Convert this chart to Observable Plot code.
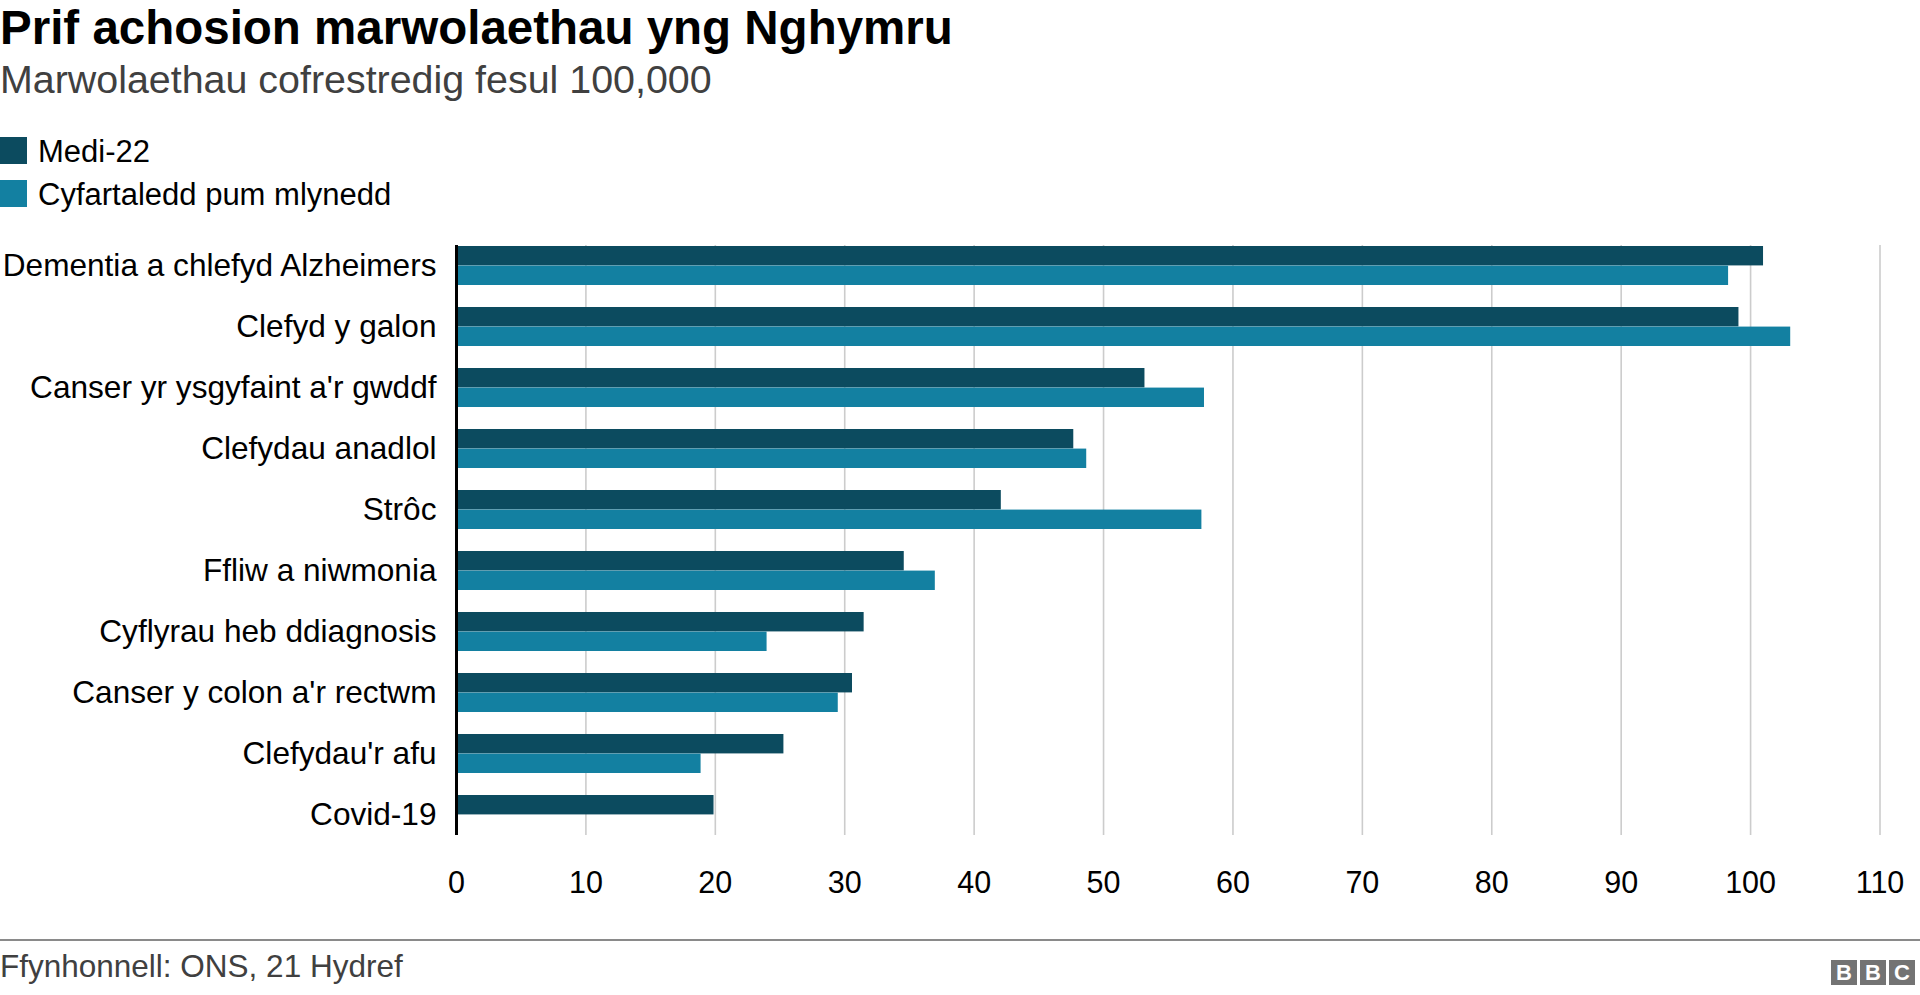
<!DOCTYPE html>
<html>
<head>
<meta charset="utf-8">
<script src="https://cdn.jsdelivr.net/npm/d3@7"></script>
<script src="https://cdn.jsdelivr.net/npm/@observablehq/plot@0.6"></script>
<style>
  html, body { margin: 0; padding: 0; background: #fff; }
  body { width: 1920px; height: 995px; position: relative; overflow: hidden;
         font-family: "Liberation Sans", Arial, Helvetica, sans-serif; }
  .abs { position: absolute; white-space: nowrap; }
  #title { left: 0; top: 0; font-size: 47.5px; font-weight: bold; color: #000; line-height: 56px; }
  #subtitle { left: 0; top: 56px; font-size: 39.4px; color: #404040; line-height: 46px; }
  #legend { position: absolute; left: 0; top: 0; z-index: 2; }
  .leg-item { position: absolute; left: 0; height: 27px; width: 600px; white-space: nowrap; }
  .leg-sw { position: absolute; left: 0; top: 0; width: 27px; height: 27px; }
  .leg-tx { position: absolute; left: 38px; top: -2px; font-size: 31px; line-height: 34px; color: #000; white-space: nowrap; }
  #chart { left: 0; top: 200px; z-index: 1; }
  #rule { left: 0; top: 939px; width: 1920px; height: 2px; background: #8a8a8a; }
  #source { left: 0; top: 946px; font-size: 31.5px; line-height: 40px; color: #404040; }
  #bbc { left: 1831px; top: 960px; display: flex; gap: 3px; }
  #bbc span { width: 26px; height: 25px; background: #737373; color: #fff; font-weight: bold;
              font-size: 22px; line-height: 25px; text-align: center; display: block; }
</style>
</head>
<body>
<div id="title" class="abs">Prif achosion marwolaethau yng Nghymru</div>
<div id="subtitle" class="abs">Marwolaethau cofrestredig fesul 100,000</div>
<div id="chart" class="abs"></div>
<div id="legend"></div>
<div id="rule" class="abs"></div>
<div id="source" class="abs">Ffynhonnell: ONS, 21 Hydref</div>
<div id="bbc" class="abs"><span>B</span><span>B</span><span>C</span></div>
<script>
const categories = [
  "Dementia a chlefyd Alzheimers",
  "Clefyd y galon",
  "Canser yr ysgyfaint a'r gwddf",
  "Clefydau anadlol",
  "Strôc",
  "Ffliw a niwmonia",
  "Cyflyrau heb ddiagnosis",
  "Canser y colon a'r rectwm",
  "Clefydau'r afu",
  "Covid-19"
];
const seriesNames = ["Medi-22", "Cyfartaledd pum mlynedd"];
const seriesColors = ["#0c4b5f", "#1380a1"];
const medi22 = [101.0, 99.1, 53.2, 47.7, 42.1, 34.6, 31.5, 30.6, 25.3, 19.9];
const avg5   = [98.3, 103.1, 57.8, 48.7, 57.6, 37.0, 24.0, 29.5, 18.9, null];
const xTicks = [0, 10, 20, 30, 40, 50, 60, 70, 80, 90, 100, 110];

// Legend
const legend = document.getElementById("legend");
seriesNames.forEach((name, i) => {
  const item = document.createElement("div");
  item.className = "leg-item";
  item.style.top = (137 + i * 43) + "px";
  item.innerHTML = `<div class="leg-sw" style="background:${seriesColors[i]}"></div><div class="leg-tx">${name}</div>`;
  legend.appendChild(item);
});

const rowsMedi = categories.map((c, i) => ({category: c, value: medi22[i]}));
const rowsAvg = categories.map((c, i) => ({category: c, value: avg5[i]})).filter(d => d.value != null);

const height = 710, marginTop = 45, marginBottom = 75;
const paddingInner = 0.36;
const step = (height - marginTop - marginBottom) / (categories.length - paddingInner);
const half = step * (1 - paddingInner) / 2;

const chart = Plot.plot({
  width: 1920,
  height,
  marginLeft: 456,
  marginRight: 40.5,
  marginTop,
  marginBottom,
  style: {fontFamily: "'Liberation Sans', Arial, Helvetica, sans-serif", fontSize: "30px", color: "#000", background: "transparent"},
  x: {domain: [0, 110]},
  y: {domain: categories, paddingInner, paddingOuter: 0},
  marks: [
    Plot.gridX(xTicks.filter(d => d > 0), {stroke: "#cccccc", strokeOpacity: 1, strokeWidth: 1.6}),
    Plot.barX(rowsMedi, {y: "category", x: "value", fill: seriesColors[0], insetBottom: half}),
    Plot.barX(rowsAvg, {y: "category", x: "value", fill: seriesColors[1], insetTop: half}),
    Plot.ruleX([0], {stroke: "#000", strokeWidth: 3}),
    Plot.axisX(xTicks, {tickSize: 0, tickPadding: 36, label: null, fontSize: 30.5, tickFormat: d => String(d)}),
    Plot.axisY({tickSize: 0, tickPadding: 20, label: null, fontSize: 31.6})
  ]
});
document.getElementById("chart").appendChild(chart);
</script>
</body>
</html>
